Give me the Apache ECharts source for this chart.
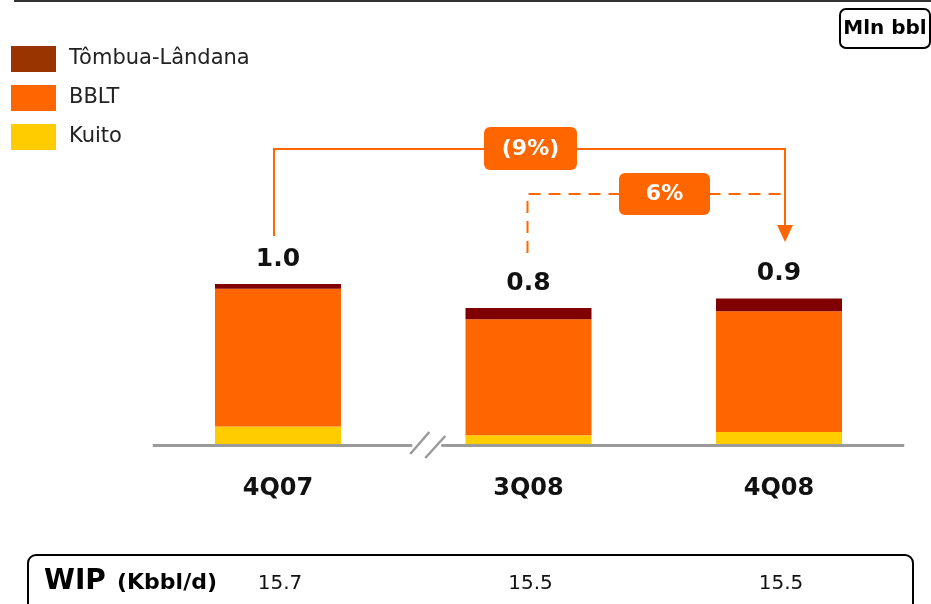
<!DOCTYPE html>
<html>
<head>
<meta charset="utf-8">
<script src="https://cdn.jsdelivr.net/npm/echarts@6/dist/echarts.min.js"></script>
<style>
html,body{margin:0;padding:0;background:#fff;}
#chart{width:931px;height:604px;}
</style>
</head>
<body>
<div id="chart"></div>
<script>
var categories = ['4Q07', '3Q08', '4Q08'];
var kuito = [0.11, 0.055, 0.075];
var bblt = [0.86, 0.725, 0.755];
var tombua = [0.03, 0.07, 0.08];
var totalLabels = ['1.0', '0.8', '0.9'];
var wipValues = ['15.7', '15.5', '15.5'];
var changeLabels = ['(9%)', '6%'];

var C_DARK = '#800000', C_DARK_LEG = '#993300', C_ORANGE = '#FF6600', C_YELLOW = '#FFCC00';
var FONT = 'DejaVu Sans';

var chart = echarts.init(document.getElementById('chart'));
var option = {
  animation: false,
  backgroundColor: '#fff',
  grid: { left: 152.75, width: 751.5, top: 204, height: 240, containLabel: false },
  legend: {
    orient: 'vertical', left: 11, top: 46, padding: 0,
    itemWidth: 45, itemHeight: 26, itemGap: 13,
    icon: 'rect',
    textStyle: { fontFamily: FONT, fontSize: 21, color: '#222', padding: [2, 0, 0, 8] },
    data: [
      { name: 'Tômbua-Lândana', itemStyle: { color: C_DARK_LEG } },
      { name: 'BBLT' },
      { name: 'Kuito' }
    ]
  },
  xAxis: {
    type: 'category', data: categories,
    axisLine: { show: false }, axisTick: { show: false },
    axisLabel: { margin: 33, fontFamily: FONT, fontWeight: 'bold', fontSize: 24, color: '#111' }
  },
  yAxis: { type: 'value', min: 0, max: 1.5, show: false, splitLine: { show: false } },
  series: [
    { name: 'Kuito', type: 'bar', stack: 's', data: kuito, barWidth: 126, itemStyle: { color: C_YELLOW } },
    { name: 'BBLT', type: 'bar', stack: 's', data: bblt, barWidth: 126, itemStyle: { color: C_ORANGE } },
    { name: 'Tômbua-Lândana', type: 'bar', stack: 's', data: tombua, barWidth: 126, itemStyle: { color: C_DARK },
      label: { show: true, position: 'top', distance: 12,
        formatter: function (p) { return totalLabels[p.dataIndex]; },
        fontFamily: FONT, fontWeight: 'bold', fontSize: 25, color: '#111' } }
  ]
};
chart.setOption(option);

function px(i, v) { return chart.convertToPixel({ gridIndex: 0 }, [i, v]); }
var base = px(0, 0)[1];
var gl = 152.75, gr = 152.75 + 751.5;
var c0 = px(0, 0)[0], c1 = px(1, 0)[0], c2 = px(2, 0)[0];
var brk = (c0 + c1) / 2 + 19;
var gray = '#9a9a9a';
var orangeLine = { stroke: C_ORANGE, lineWidth: 2, fill: null };
var yTop = 149, yDash = 194;
var g = [
  { type: 'rect', shape: { x: 14, y: 0, width: 917, height: 2 }, style: { fill: '#333' } },
  { type: 'rect', shape: { x: 840, y: 9, width: 90, height: 39, r: 6 }, style: { fill: '#fff', stroke: '#000', lineWidth: 2 } },
  { type: 'text', x: 885, y: 29, style: { text: 'Mln bbl', fontFamily: FONT, fontWeight: 'bold', fontSize: 20, fill: '#000', align: 'center', verticalAlign: 'middle' } },
  // axis line with break
  { type: 'rect', shape: { x: gl, y: base, width: brk - 10 - gl, height: 3 }, style: { fill: gray } },
  { type: 'rect', shape: { x: brk + 19, y: base, width: gr - brk - 19, height: 3 }, style: { fill: gray } },
  { type: 'line', shape: { x1: brk - 12, y1: base + 10, x2: brk + 7, y2: base - 12 }, style: { stroke: gray, lineWidth: 2.5 } },
  { type: 'line', shape: { x1: brk + 3, y1: base + 14, x2: brk + 23, y2: base - 8 }, style: { stroke: gray, lineWidth: 2.5 } },
  // solid bracket 4Q07 -> 4Q08
  { type: 'polyline', shape: { points: [[c0 - 4, 236], [c0 - 4, yTop], [c2 + 6, yTop], [c2 + 6, 226]] }, style: orangeLine },
  { type: 'polygon', shape: { points: [[c2 - 2, 225], [c2 + 14, 225], [c2 + 6, 242]] }, style: { fill: C_ORANGE } },
  // dashed bracket 3Q08 -> 4Q08
  { type: 'polyline', shape: { points: [[c1 - 1, 253], [c1 - 1, yDash], [c2 + 5, yDash]] }, style: { stroke: C_ORANGE, lineWidth: 2, fill: null, lineDash: [12, 8] } },
  { type: 'rect', shape: { x: 484, y: 127, width: 93, height: 43, r: 6 }, style: { fill: C_ORANGE } },
  { type: 'text', x: 530.5, y: 149, style: { text: changeLabels[0], fontFamily: FONT, fontWeight: 'bold', fontSize: 22, fill: '#fff', align: 'center', verticalAlign: 'middle' } },
  { type: 'rect', shape: { x: 619, y: 173, width: 91, height: 42, r: 6 }, style: { fill: C_ORANGE } },
  { type: 'text', x: 664.5, y: 194, style: { text: changeLabels[1], fontFamily: FONT, fontWeight: 'bold', fontSize: 22, fill: '#fff', align: 'center', verticalAlign: 'middle' } },
  // WIP box
  { type: 'rect', shape: { x: 28, y: 555, width: 885, height: 70, r: 8 }, style: { fill: '#fff', stroke: '#000', lineWidth: 2 } },
  { type: 'text', x: 44, y: 582, style: { text: 'WIP', fontFamily: FONT, fontWeight: 'bold', fontSize: 28, fill: '#000', verticalAlign: 'middle' } },
  { type: 'text', x: 117, y: 583, style: { text: '(Kbbl/d)', fontFamily: FONT, fontWeight: 'bold', fontSize: 22, fill: '#000', verticalAlign: 'middle' } }
];
wipValues.forEach(function (v, i) {
  g.push({ type: 'text', x: px(i, 0)[0] + 2, y: 584, style: { text: v, fontFamily: FONT, fontSize: 20, fill: '#111', align: 'center', verticalAlign: 'middle' } });
});
chart.setOption({ graphic: g });
</script>
</body>
</html>
